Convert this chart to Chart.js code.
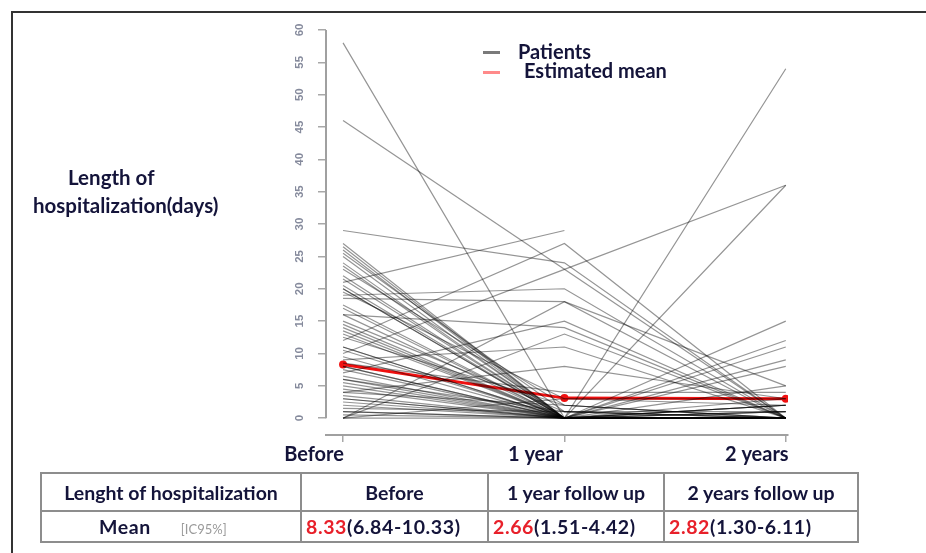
<!DOCTYPE html>
<html>
<head>
<meta charset="utf-8">
<script src="https://cdn.jsdelivr.net/npm/chart.js@4/dist/chart.umd.min.js"></script>
<style>
  html, body { margin:0; padding:0; background:#fff; }
  body { width:926px; height:553px; position:relative; overflow:hidden; font-family:"Lato", "Liberation Sans", sans-serif; }
  #frame { position:absolute; left:11px; top:11px; width:930px; height:560px; border-left:2px solid #333; border-top:2px solid #333; }
  #chartBox { position:absolute; left:0; top:0; width:926px; height:553px; }
  .lbl { position:absolute; font-weight:700; color:#14143a; white-space:nowrap; }
  .leg { position:absolute; height:3px; width:17px; }
  table { position:absolute; left:40px; top:472px; border-collapse:collapse; width:817px; font-weight:700; color:#14143a; font-size:19.5px; table-layout:fixed; }
  td { border:2px solid #8d8d8d; padding:0 4px; white-space:nowrap; overflow:visible; }
  tr.h td { height:36px; text-align:center; }
  tr.m td { height:29px; text-align:left; letter-spacing:0.6px; }
  .red { color:#e8202a; }
  .ic { color:#9a9a9a; font-weight:400; font-size:13px; margin-left:30px; letter-spacing:0; }
</style>
</head>
<body>
<div id="frame"></div>
<div id="chartBox"><canvas id="c" width="926" height="553"></canvas></div>

<div class="lbl" style="left:68px; top:165px; font-size:20.5px;">Length of</div>
<div class="lbl" style="left:33px; top:193px; font-size:20.5px;">hospitalization(days)</div>

<div class="leg" style="left:483px; top:51px; background:#7a7a7a;"></div>
<div class="leg" style="left:483px; top:71px; background:#ff8a8a;"></div>
<div class="lbl" style="left:518px; top:39px; font-size:20px;">Patients</div>
<div class="lbl" style="left:524px; top:58px; font-size:20px;">Estimated mean</div>

<table>
  <colgroup><col style="width:260px"><col style="width:187px"><col style="width:176px"><col style="width:194px"></colgroup>
  <tr class="h"><td>Lenght of hospitalization</td><td>Before</td><td>1 year follow up</td><td>2 years follow up</td></tr>
  <tr class="m"><td style="padding-left:57px;">Mean<span class="ic">[IC95%]</span></td>
    <td><span class="red">8.33</span>(6.84-10.33)</td>
    <td><span class="red">2.66</span>(1.51-4.42)</td>
    <td><span class="red">2.82</span>(1.30-6.11)</td></tr>
</table>

<script>
// ---- data ----
const categories = ['Before', '1 year', '2 years'];
const yTickValues = [0, 5, 10, 15, 20, 25, 30, 35, 40, 45, 50, 55, 60];

const patientBefore = [58, 46, 29, 21, 12, 10, 3, 19, 18.5, 7, 0, 0, 9, 4, 16,
  5, 8, 6, 14, 11, 2, 1, 20,
  27, 26.5, 26, 25.5, 25, 24, 23.5, 23, 22, 21.5, 20.5, 20, 19.5, 17.5, 17, 16, 15, 14.5, 13.5, 13,
  12.5, 11, 10.5, 9.5, 8.5, 8, 7.5, 6.5, 6, 5.5, 4.5, 4, 3.5, 3, 2.5, 1.5, 1, 0.5, 0, 0];
const patientYear1 = [0, 23, 24, 29, 27, 23, 0, 20, 18, 15, 13, 18, 11, 8, 14,
  0, 0, 0, 0, 0, 0, 0, 0,
  0, 0, 0, 1, 0, 0, 0, 2, 0, 0, 0, 0, 3, 0, 0, 0, 1, 0, 0, 0,
  2, 0, 0, 0, 4, 0, 0, 0, 1, 0, 0, 2, 0, 0, 0, 1, 0, 0, 0, 3];
const patientYear2 = [54, 0, 0, null, 0, 36, 36, 0, 5, 0, 0, 0, 0, 3, 0,
  15, 12, 11, 9, 8, 5, 3, 2,
  0, 0, 0, 1, 0, 0, 0, 0, 0, 2, 0, 0, 2, 0, 1, 0, 0, 0, 0, 0,
  0, 2, 0, 0, 4, 0, 0, 1, 0, 0, 0, 0, 0, 2, 0, 0, 0, 0, 1, 3];
const estimatedMean = [8.3, 3.1, 3.0];

// ---- build datasets ----
const datasets = [];
for (let i = 0; i < patientBefore.length; i++) {
  const vals = [patientBefore[i], patientYear1[i], patientYear2[i]];
  datasets.push({
    label: 'Patients',
    data: vals.map((v, k) => ({ x: k, y: v })),
    borderColor: 'rgba(0,0,0,0.42)',
    borderWidth: 1.2,
    pointRadius: 0,
    tension: 0,
    spanGaps: false
  });
}
datasets.push({
  label: 'Estimated mean',
  data: estimatedMean.map((v, k) => ({ x: k, y: v })),
  borderColor: '#f01010',
  backgroundColor: '#f01010',
  borderWidth: 3,
  pointRadius: 4,
  pointBorderWidth: 0,
  tension: 0
});

const axisPlugin = {
  id: 'rAxis',
  afterDraw(chart) {
    const ctx = chart.ctx;
    const ys = chart.scales.y;
    const x0 = chart.chartArea.left;
    ctx.save();
    ctx.strokeStyle = '#a0a0a0';
    ctx.lineWidth = 2;
    ctx.beginPath();
    ctx.moveTo(x0, ys.getPixelForValue(yTickValues[0]));
    ctx.lineTo(x0, ys.getPixelForValue(yTickValues[yTickValues.length - 1]));
    ctx.stroke();
    ctx.fillStyle = '#858a9c';
    ctx.font = 'bold 11.5px "Liberation Sans", sans-serif';
    ctx.textAlign = 'center';
    ctx.textBaseline = 'middle';
    ys.ticks.forEach(t => {
      const py = ys.getPixelForValue(t.value);
      ctx.save();
      ctx.translate(x0 - 26, py);
      ctx.rotate(-Math.PI / 2);
      ctx.fillText(String(t.value), 0, 0);
      ctx.restore();
    });
    ctx.restore();
  }
};

new Chart(document.getElementById('c'), {
  type: 'line',
  data: { datasets },
  options: {
    responsive: false,
    devicePixelRatio: 1,
    animation: false,
    layout: { padding: { left: 286, right: 138, top: 28, bottom: 88 } },
    plugins: { legend: { display: false }, tooltip: { enabled: false } },
    scales: {
      x: {
        type: 'linear',
        min: -0.077,
        max: 2.01,
        afterBuildTicks: s => { s.ticks = categories.map((c, i) => ({ value: i })); },
        afterFit: s => { s.height = 30; },
        ticks: {
          callback: v => categories[v],
          font: { family: 'Lato', size: 20, weight: 'bold' },
          color: '#14143a',
          padding: 1,
          labelOffset: -29,
          maxRotation: 0,
          autoSkip: false
        },
        grid: { display: true, drawOnChartArea: false, drawTicks: true, tickLength: 7, color: '#a8a8a8', lineWidth: 1.5 },
        border: { display: true, color: '#a0a0a0', width: 2 }
      },
      y: {
        type: 'linear',
        min: -2.6,
        max: 60.3,
        afterBuildTicks: s => { s.ticks = yTickValues.map(v => ({ value: v })); },
        afterFit: s => { s.width = 40; },
        ticks: { display: false },
        grid: { display: true, drawOnChartArea: false, drawTicks: true, tickLength: 8, color: '#a8a8a8', lineWidth: 1.5 },
        border: { display: false }
      }
    }
  },
  plugins: [axisPlugin]
});
</script>
</body>
</html>
